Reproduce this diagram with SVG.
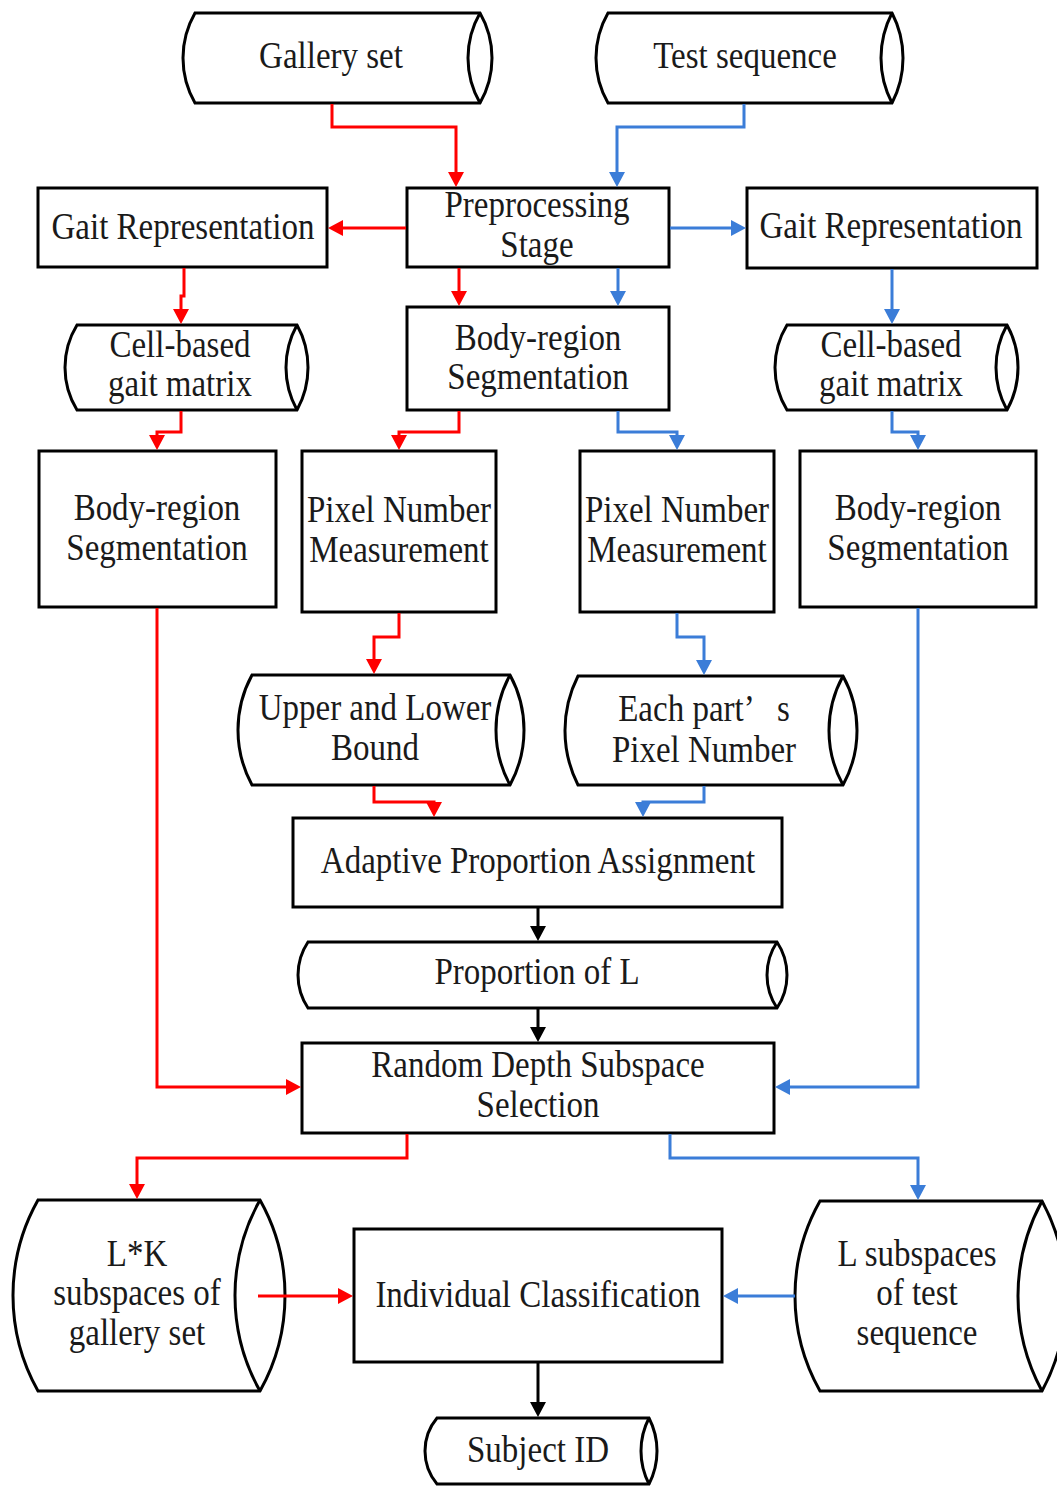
<svg xmlns="http://www.w3.org/2000/svg" width="1057" height="1486" viewBox="0 0 1057 1486">
<style>
.box{fill:#fff;stroke:#000;stroke-width:3}
.cyl{fill:#fff;stroke:#000;stroke-width:3;stroke-linejoin:miter}
.inner{fill:none;stroke:#000;stroke-width:3}
.t{font-family:"Liberation Serif","Times New Roman",serif;font-size:33px;fill:#1a1a1a;text-anchor:middle}
.r{fill:none;stroke:#ff0000;stroke-width:3;marker-end:url(#ar)}
.b{fill:none;stroke:#3b7dd8;stroke-width:3;marker-end:url(#ab)}
.k{fill:none;stroke:#000;stroke-width:3;marker-end:url(#ak)}
</style>
<defs>
<marker id="ar" markerUnits="userSpaceOnUse" markerWidth="16" markerHeight="16" viewBox="0 0 15 16" refX="11" refY="8" orient="auto"><path d="M0,0 L15,8 L0,16 Z" fill="#ff0000"/></marker>
<marker id="ab" markerUnits="userSpaceOnUse" markerWidth="16" markerHeight="16" viewBox="0 0 15 16" refX="11" refY="8" orient="auto"><path d="M0,0 L15,8 L0,16 Z" fill="#3b7dd8"/></marker>
<marker id="ak" markerUnits="userSpaceOnUse" markerWidth="16" markerHeight="16" viewBox="0 0 15 16" refX="11" refY="8" orient="auto"><path d="M0,0 L15,8 L0,16 Z" fill="#000"/></marker>
</defs>
<rect width="1057" height="1486" fill="#fff"/>

<g id="gallery-set">
<path class="cyl" d="M195,13 H480 A90.4,90.4 0 0 1 480,103 H195 A90.4,90.4 0 0 1 195,13 Z"/>
<path class="inner" d="M480,13 A90.4,90.4 0 0 0 480,103"/>
<text class="t" transform="translate(331 68) scale(1 1.15)">Gallery set</text>
</g>

<g id="test-sequence">
<path class="cyl" d="M608,13 H892 A97.5,97.5 0 0 1 892,103 H608 A90.4,90.4 0 0 1 608,13 Z"/>
<path class="inner" d="M892,13 A97.5,97.5 0 0 0 892,103"/>
<text class="t" transform="translate(745 68) scale(1 1.15)">Test sequence</text>
</g>

<g id="preprocessing">
<rect class="box" x="407" y="188" width="262" height="79"/>
<text class="t" transform="translate(537 217) scale(1 1.15)"><tspan x="0" y="0">Preprocessing</tspan><tspan x="0" y="34.8">Stage</tspan></text>
</g>

<g id="gait-rep-left">
<rect class="box" x="38" y="188" width="289" height="79"/>
<text class="t" transform="translate(183 239) scale(1 1.15)">Gait Representation</text>
</g>

<g id="gait-rep-right">
<rect class="box" x="747" y="188" width="290" height="80"/>
<text class="t" transform="translate(891 238) scale(1 1.15)">Gait Representation</text>
</g>

<g id="cell-left">
<path class="cyl" d="M77,325 H297 A87.6,87.6 0 0 1 297,410 H77 A81.3,81.3 0 0 1 77,325 Z"/>
<path class="inner" d="M297,325 A87.6,87.6 0 0 0 297,410"/>
<text class="t" transform="translate(180 357) scale(1 1.15)"><tspan x="0" y="0">Cell-based</tspan><tspan x="0" y="33.9">gait matrix</tspan></text>
</g>

<g id="cell-right">
<path class="cyl" d="M787,325 H1007 A87.6,87.6 0 0 1 1007,410 H787 A81.3,81.3 0 0 1 787,325 Z"/>
<path class="inner" d="M1007,325 A87.6,87.6 0 0 0 1007,410"/>
<text class="t" transform="translate(891 357) scale(1 1.15)"><tspan x="0" y="0">Cell-based</tspan><tspan x="0" y="33.9">gait matrix</tspan></text>
</g>

<g id="body-center">
<rect class="box" x="407" y="307" width="262" height="103"/>
<text class="t" transform="translate(538 350) scale(1 1.15)"><tspan x="0" y="0">Body-region</tspan><tspan x="0" y="33.9">Segmentation</tspan></text>
</g>

<g id="body-left">
<rect class="box" x="39" y="451" width="237" height="156"/>
<text class="t" transform="translate(157 520) scale(1 1.15)"><tspan x="0" y="0">Body-region</tspan><tspan x="0" y="34.8">Segmentation</tspan></text>
</g>

<g id="pixel-left">
<rect class="box" x="302" y="451" width="194" height="161"/>
<text class="t" transform="translate(399 522) scale(1 1.15)"><tspan x="0" y="0">Pixel Number</tspan><tspan x="0" y="34.8">Measurement</tspan></text>
</g>

<g id="pixel-right">
<rect class="box" x="580" y="451" width="194" height="161"/>
<text class="t" transform="translate(677 522) scale(1 1.15)"><tspan x="0" y="0">Pixel Number</tspan><tspan x="0" y="34.8">Measurement</tspan></text>
</g>

<g id="body-right">
<rect class="box" x="800" y="451" width="236" height="156"/>
<text class="t" transform="translate(918 520) scale(1 1.15)"><tspan x="0" y="0">Body-region</tspan><tspan x="0" y="34.8">Segmentation</tspan></text>
</g>

<g id="upper-lower">
<path class="cyl" d="M252,675 H510 A115,115 0 0 1 510,785 H252 A115,115 0 0 1 252,675 Z"/>
<path class="inner" d="M510,675 A115,115 0 0 0 510,785"/>
<text class="t" transform="translate(375 720) scale(1 1.15)"><tspan x="0" y="0">Upper and Lower</tspan><tspan x="0" y="34.8">Bound</tspan></text>
</g>

<g id="each-part">
<path class="cyl" d="M578,676 H843 A113,113 0 0 1 843,785 H578 A120.7,120.7 0 0 1 578,676 Z"/>
<path class="inner" d="M843,676 A113,113 0 0 0 843,785"/>
<text class="t" transform="translate(704 721) scale(1 1.15)" style="white-space:pre"><tspan x="0" y="0">Each part’   s</tspan><tspan x="0" y="35.7">Pixel Number</tspan></text>
</g>

<g id="adaptive">
<rect class="box" x="293" y="818" width="489" height="89"/>
<text class="t" transform="translate(538 873) scale(1 1.15)">Adaptive Proportion Assignment</text>
</g>

<g id="proportion">
<path class="cyl" d="M308,942 H777 A59.5,59.5 0 0 1 777,1008 H308 A59.5,59.5 0 0 1 308,942 Z"/>
<path class="inner" d="M777,942 A59.5,59.5 0 0 0 777,1008"/>
<text class="t" transform="translate(537 984) scale(1 1.15)">Proportion of L</text>
</g>

<g id="random">
<rect class="box" x="302" y="1043" width="472" height="90"/>
<text class="t" transform="translate(538 1077) scale(1 1.15)"><tspan x="0" y="0">Random Depth Subspace</tspan><tspan x="0" y="34.8">Selection</tspan></text>
</g>

<g id="lk-gallery">
<path class="cyl" d="M38,1200 H260 A194.9,194.9 0 0 1 260,1391 H38 A194.9,194.9 0 0 1 38,1200 Z"/>
<path class="inner" d="M260,1200 A194.9,194.9 0 0 0 260,1391"/>
<text class="t" transform="translate(137 1266) scale(1 1.15)"><tspan x="0" y="0">L*K</tspan><tspan x="0" y="34.3">subspaces of</tspan><tspan x="0" y="69.1">gallery set</tspan></text>
</g>

<g id="individual">
<rect class="box" x="354" y="1229" width="368" height="133"/>
<text class="t" transform="translate(538 1307) scale(1 1.15)">Individual Classification</text>
</g>

<g id="l-test">
<path class="cyl" d="M820,1201 H1042 A200,200 0 0 1 1042,1391 H820 A193,193 0 0 1 820,1201 Z"/>
<path class="inner" d="M1042,1201 A200,200 0 0 0 1042,1391"/>
<text class="t" transform="translate(917 1266) scale(1 1.15)"><tspan x="0" y="0">L subspaces</tspan><tspan x="0" y="33.9">of test</tspan><tspan x="0" y="68.7">sequence</tspan></text>
</g>

<g id="subject-id">
<path class="cyl" d="M437,1418 H649 A72,72 0 0 1 649,1484 H437 A51.4,51.4 0 0 1 437,1418 Z"/>
<path class="inner" d="M649,1418 A72,72 0 0 0 649,1484"/>
<text class="t" transform="translate(538 1462) scale(1 1.15)">Subject ID</text>
</g>

<g id="connectors">
<path class="r" d="M332,104 V127 H456 V183"/>
<path class="r" d="M406,228 H332"/>
<path class="r" d="M184,268 V296 H181 V320"/>
<path class="r" d="M459,268 V302"/>
<path class="r" d="M181,411 V432 H157 V446"/>
<path class="r" d="M459,411 V432 H399 V446"/>
<path class="r" d="M399,613 V637 H374 V670"/>
<path class="r" d="M374,786 V802 H434 V813"/>
<path class="r" d="M157,608 V1087 H297"/>
<path class="r" d="M407,1134 V1158 H137 V1195"/>
<path class="r" d="M258,1296 H349"/>
<path class="b" d="M744,104 V127 H617 V183"/>
<path class="b" d="M670,228 H742"/>
<path class="b" d="M892,269 V320"/>
<path class="b" d="M618,268 V302"/>
<path class="b" d="M618,411 V432 H677 V446"/>
<path class="b" d="M892,411 V432 H918 V446"/>
<path class="b" d="M677,613 V637 H704 V671"/>
<path class="b" d="M704,786 V802 H643 V813"/>
<path class="b" d="M918,608 V1087 H779"/>
<path class="b" d="M670,1134 V1158 H918 V1196"/>
<path class="b" d="M795,1296 H727"/>
<path class="k" d="M538,908 V937"/>
<path class="k" d="M538,1009 V1038"/>
<path class="k" d="M538,1363 V1413"/>
</g>
</svg>
